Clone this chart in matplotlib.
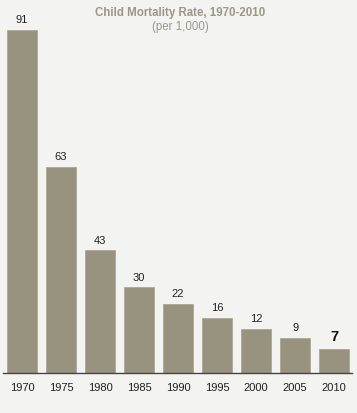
import matplotlib.pyplot as plt

years = ["1970", "1975", "1980", "1985", "1990", "1995", "2000", "2005", "2010"]
# printed rate per 1,000
rates = [91, 63, 43, 30, 22, 16, 12, 9, 7]
# drawn bar heights (the bars are not drawn to scale)
bar_heights = [91, 54.7, 32.6, 22.8, 18.3, 14.6, 11.7, 9.3, 6.4]

bg = "#f3f3f1"
bar_color = "#97937f"
title_color = "#9a9888"

plt.rcParams['font.family'] = ['Liberation Sans', 'DejaVu Sans']
fig = plt.figure(figsize=(3.57, 4.13), dpi=100, facecolor=bg)
ax = fig.add_axes([3 / 357, 40 / 413, 349 / 357, 363 / 413])
ax.set_facecolor(bg)

x = list(range(len(years)))
ax.bar(x, bar_heights, width=0.77, color=bar_color, edgecolor="#aaa797", linewidth=0.6)

for i, (h, v) in enumerate(zip(bar_heights, rates)):
    if i == len(rates) - 1:
        ax.text(i, h + 1.3, str(v), ha="center", va="bottom", fontsize=10.5,
                fontweight="bold", color="#111111")
    else:
        ax.text(i, h + 1.2, str(v), ha="center", va="bottom", fontsize=8,
                color="#222222")

ax.set_xlim(-0.49, 8.46)
ax.set_ylim(0, 96.3)
ax.set_xticks(x)
ax.set_xticklabels(years, fontsize=8, color="#222222")
ax.tick_params(axis="x", length=0, pad=7.5)
ax.set_yticks([])
for s in ["top", "right", "left"]:
    ax.spines[s].set_visible(False)
ax.spines["bottom"].set_color("#444444")
ax.spines["bottom"].set_linewidth(1.0)

fig.text(0.505, 1 - 13 / 413, "Child Mortality Rate, 1970-2010", ha="center", va="center",
         fontsize=8.3, fontweight="bold", color=title_color)
fig.text(0.505, 1 - 27 / 413, "(per 1,000)", ha="center", va="center",
         fontsize=8.3, color=title_color)

fig.savefig("out.png", dpi=100, facecolor=bg)
